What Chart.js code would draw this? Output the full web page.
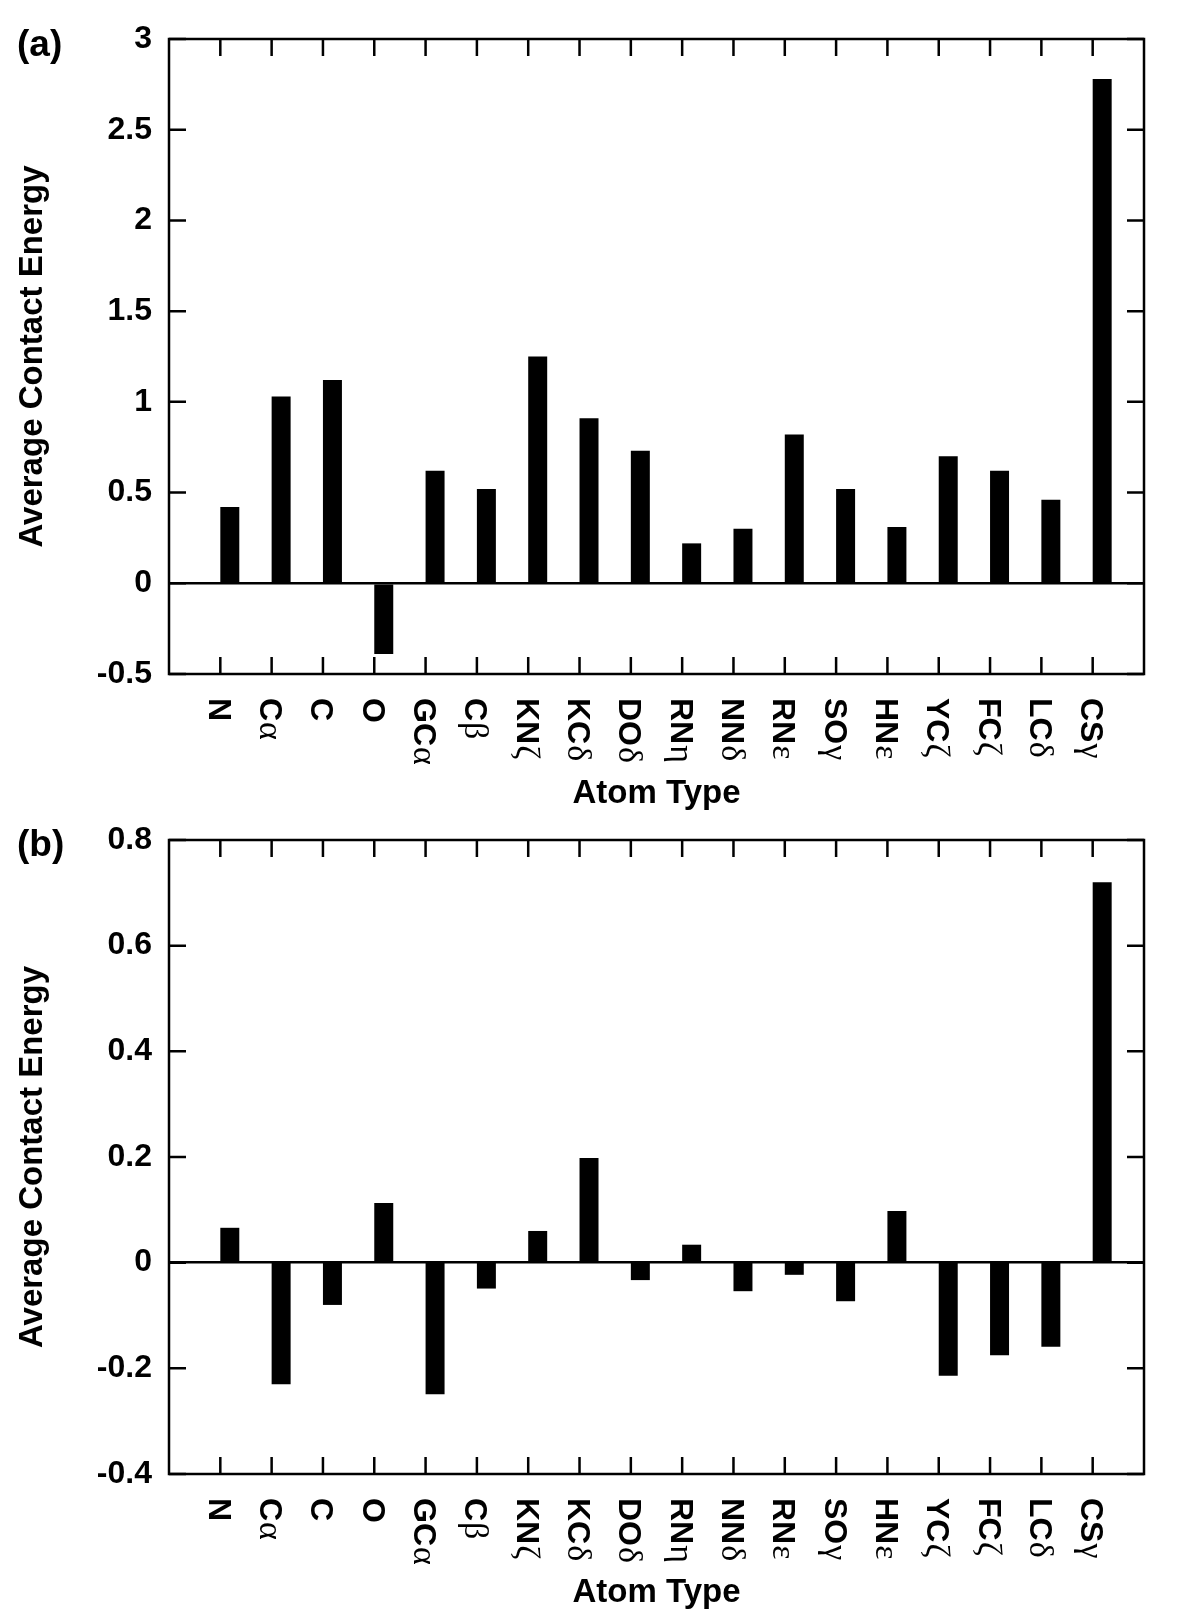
<!DOCTYPE html>
<html>
<head>
<meta charset="utf-8">
<script src="https://cdn.jsdelivr.net/npm/chart.js@4/dist/chart.umd.min.js"></script>
<style>
  html, body { margin: 0; padding: 0; background: #fff; overflow: hidden; }
  body { width: 1200px; height: 1611px; position: relative; }
  .panel { position: absolute; left: 0; width: 1200px; }
  #panelA { top: 0; height: 830px; }
  #panelB { top: 800px; height: 811px; }
</style>
</head>
<body>
<div class="panel" id="panelA"><canvas id="chartA"></canvas></div>
<div class="panel" id="panelB"><canvas id="chartB"></canvas></div>
<script>
// atom types along the x axis (latin part bold, greek part in a symbol-like face)
const atomTypes = ['N', 'Cα', 'C', 'O', 'GCα', 'Cβ', 'KNζ', 'KCδ', 'DOδ', 'RNη', 'NNδ', 'RNε', 'SOγ', 'HNε', 'YCζ', 'FCζ', 'LCδ', 'CSγ']

// (a) average contact energy
const energyA = [0.42, 1.03, 1.12, -0.39, 0.62, 0.52, 1.25, 0.91, 0.73, 0.22, 0.30, 0.82, 0.52, 0.31, 0.70, 0.62, 0.46, 2.78]
// (b) average contact energy
const energyB = [0.066, -0.230, -0.080, 0.113, -0.249, -0.049, 0.060, 0.198, -0.033, 0.034, -0.054, -0.023, -0.073, 0.098, -0.214, -0.175, -0.159, 0.720]

const yTicksA = [-0.5, 0, 0.5, 1, 1.5, 2, 2.5, 3]
const yTicksB = [-0.4, -0.2, 0, 0.2, 0.4, 0.6, 0.8]

const SANS = '"Liberation Sans", Arial, Helvetica, sans-serif'
const SERIF = '"Liberation Serif", "Times New Roman", serif'
const TICK = 17

// frame, inward ticks, rotated x labels and the panel tag
const framePlugin = {
    id: 'frame',
    afterDraw(chart, args, opts) {
        const { ctx, chartArea: a, scales: { x, y } } = chart
        ctx.save()
        ctx.strokeStyle = '#000'
        ctx.lineWidth = 2.5
        ctx.strokeRect(a.left, a.top, a.right - a.left, a.bottom - a.top)

        ctx.beginPath()
        y.ticks.forEach(t => {
            const py = y.getPixelForValue(t.value)
            ctx.moveTo(a.left, py)
            ctx.lineTo(a.left + TICK, py)
            ctx.moveTo(a.right, py)
            ctx.lineTo(a.right - TICK, py)
        })
        atomTypes.forEach((lbl, i) => {
            const px = x.getPixelForValue(i + 1)
            ctx.moveTo(px, a.bottom)
            ctx.lineTo(px, a.bottom - TICK)
            ctx.moveTo(px, a.top)
            ctx.lineTo(px, a.top + TICK)
        })
        ctx.stroke()

        ctx.fillStyle = '#000'
        atomTypes.forEach((lbl, i) => {
            const px = x.getPixelForValue(i + 1)
            const m = lbl.match(/^([A-Z]+)(.*)$/)
            ctx.save()
            ctx.translate(px, a.bottom + 24)
            ctx.rotate(Math.PI / 2)
            ctx.textAlign = 'left'
            ctx.textBaseline = 'alphabetic'
            ctx.font = 'bold 32px ' + SANS
            ctx.fillText(m[1], 0, 11.5)
            const w = ctx.measureText(m[1]).width
            ctx.font = '34px ' + SERIF
            ctx.fillText(m[2], w + 1, 11.5)
            ctx.restore()
        })

        ctx.font = 'bold 37px ' + SANS
        ctx.textAlign = 'left'
        ctx.textBaseline = 'middle'
        ctx.fillText(opts.tag, 17, 46)
        ctx.restore()
    }
}

const makeChart = (canvasId, values, yTicks, tag, padTop, canvasHeight, titlePad) => {
    const yMin = yTicks[0]
    const yMax = yTicks[yTicks.length - 1]
    const step = yTicks[1] - yTicks[0]

    return new Chart(document.getElementById(canvasId), {
        type: 'bar',
        data: {
            datasets: [
                {
                    // empty slot so the real bar sits right of its tick
                    data: atomTypes.map((_, i) => ({ x: i + 1, y: 0 })),
                    backgroundColor: 'rgba(0,0,0,0)',
                    borderWidth: 0,
                },
                {
                    label: 'Average Contact Energy',
                    data: values.map((v, i) => ({ x: i + 1, y: v })),
                    backgroundColor: '#000',
                    borderWidth: 0,
                }
            ]
        },
        options: {
            responsive: true,
            maintainAspectRatio: false,
            animation: false,
            datasets: { bar: { categoryPercentage: 0.74, barPercentage: 1 } },
            layout: { padding: { top: padTop, right: 56, left: 0, bottom: 0 } },
            plugins: {
                legend: { display: false },
                tooltip: { enabled: false },
                frame: { tag: tag },
            },
            scales: {
                x: {
                    type: 'linear',
                    min: 0,
                    max: atomTypes.length + 1,
                    offset: false,
                    ticks: { display: false, stepSize: 1 },
                    grid: { display: false, offset: false },
                    border: { display: false },
                    title: {
                        display: true,
                        text: 'Atom Type',
                        color: '#000',
                        font: { family: SANS, size: 33, weight: 'bold', lineHeight: 1 },
                        padding: { top: 0, bottom: titlePad },
                    },
                    afterFit: (s) => { s.height = canvasHeight - 674 },
                },
                y: {
                    min: yMin,
                    max: yMax,
                    ticks: {
                        stepSize: step,
                        padding: 17,
                        color: '#000',
                        font: { family: SANS, size: 32, weight: 'bold' },
                        callback: (v) => String(+v.toFixed(2)),
                    },
                    grid: {
                        drawTicks: false,
                        lineWidth: 2.5,
                        color: (c) => (c.tick && Math.abs(c.tick.value) < 1e-9 ? '#000' : 'rgba(0,0,0,0)'),
                    },
                    border: { display: false },
                    title: {
                        display: true,
                        text: 'Average Contact Energy',
                        color: '#000',
                        font: { family: SANS, size: 33, weight: 'bold', lineHeight: 1 },
                        padding: { top: 16, bottom: 0 },
                    },
                    afterFit: (s) => { s.width = 169 },
                }
            }
        },
        plugins: [framePlugin]
    })
}

makeChart('chartA', energyA, yTicksA, '(a)', 39, 830, 20)
makeChart('chartB', energyB, yTicksB, '(b)', 40, 811, 2)
</script>
</body>
</html>
